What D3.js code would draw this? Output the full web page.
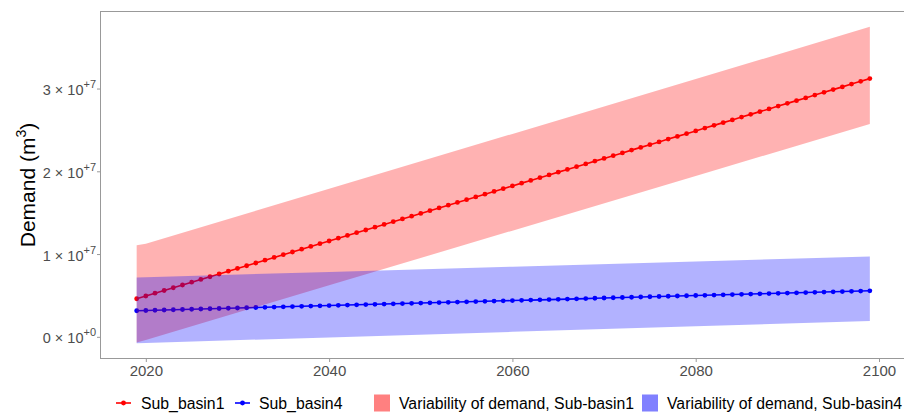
<!DOCTYPE html>
<html>
<head>
<meta charset="utf-8">
<script src="https://cdn.jsdelivr.net/npm/d3@7"></script>
<style>
  html, body { margin: 0; padding: 0; background: #ffffff; }
  svg { display: block; font-family: "Liberation Sans", Arial, sans-serif; }
</style>
</head>
<body>
<svg id="chart" width="904" height="415"></svg>
<script>
// Annual demand (million m3), one point per year 2019-2099
const years = d3.range(2019, 2100);
const subBasin1 = [
  4.60, 4.93, 5.27, 5.60, 5.93, 6.26, 6.60, 6.93, 7.26, 7.59,
  7.93, 8.26, 8.59, 8.92, 9.26, 9.59, 9.92, 10.25, 10.59, 10.92,
  11.25, 11.58, 11.92, 12.25, 12.58, 12.91, 13.25, 13.58, 13.91, 14.24,
  14.58, 14.91, 15.24, 15.57, 15.91, 16.24, 16.57, 16.90, 17.24, 17.57,
  17.90, 18.23, 18.57, 18.90, 19.23, 19.56, 19.90, 20.23, 20.56, 20.89,
  21.23, 21.56, 21.89, 22.22, 22.56, 22.89, 23.22, 23.55, 23.89, 24.22,
  24.55, 24.88, 25.22, 25.55, 25.88, 26.21, 26.55, 26.88, 27.21, 27.54,
  27.88, 28.21, 28.54, 28.87, 29.21, 29.54, 29.87, 30.20, 30.54, 30.87,
  31.20
];
const subBasin4 = [
  3.15, 3.18, 3.21, 3.24, 3.27, 3.30, 3.33, 3.36, 3.39, 3.42,
  3.45, 3.48, 3.51, 3.54, 3.57, 3.60, 3.63, 3.66, 3.69, 3.72,
  3.75, 3.78, 3.81, 3.84, 3.87, 3.90, 3.93, 3.96, 3.99, 4.02,
  4.05, 4.08, 4.11, 4.14, 4.17, 4.20, 4.23, 4.26, 4.29, 4.32,
  4.35, 4.38, 4.41, 4.44, 4.47, 4.50, 4.53, 4.56, 4.59, 4.62,
  4.66, 4.69, 4.72, 4.75, 4.78, 4.81, 4.84, 4.87, 4.90, 4.93,
  4.96, 4.99, 5.02, 5.05, 5.08, 5.11, 5.14, 5.17, 5.20, 5.23,
  5.26, 5.29, 5.32, 5.35, 5.38, 5.41, 5.44, 5.47, 5.50, 5.53,
  5.56
];

// Variability envelopes (million m3)
const bandYears = [2019, 2020, 2040, 2060, 2080, 2099];
const band1Upper = [11.07, 11.24, 17.88, 24.52, 31.15, 37.46];
const band1Lower = [-0.70, -0.37, 6.23, 12.83, 19.43, 25.73];
const band4Upper = [7.17, 7.20, 7.84, 8.47, 9.11, 9.71];
const band4Lower = [-0.77, -0.74, -0.07, 0.60, 1.27, 1.90];

const xTicks = [2020, 2040, 2060, 2080, 2100];
const yTicks = [0, 1, 2, 3];           // multiples of 10^7
const yTickExps = ["+0", "+7", "+7", "+7"];

const seriesNames = ["Sub_basin1", "Sub_basin4"];
const bandNames = ["Variability of demand, Sub-basin1", "Variability of demand, Sub-basin4"];

const svg = d3.select("#chart");
const panel = { left: 100, top: 11, bottom: 359, right: 906.5 };

const x = d3.scaleLinear().domain([2015, 2103]).range([panel.left, panel.right]);
const y = d3.scaleLinear().domain([-2.68e6, 39.37e6]).range([panel.bottom, panel.top]);

svg.append("defs").append("clipPath").attr("id", "panelClip")
  .append("rect")
  .attr("x", panel.left).attr("y", panel.top)
  .attr("width", panel.right - panel.left).attr("height", panel.bottom - panel.top);

const plot = svg.append("g").attr("clip-path", "url(#panelClip)");

const lineGen = d3.line().x(d => x(d.year)).y(d => y(d.value * 1e6));
const areaGen = d3.area()
  .x(d => x(d.year))
  .y0(d => y(d.lo * 1e6))
  .y1(d => y(d.hi * 1e6));

const s1 = years.map((yr, i) => ({ year: yr, value: subBasin1[i] }));
const s4 = years.map((yr, i) => ({ year: yr, value: subBasin4[i] }));
const b1 = bandYears.map((yr, i) => ({ year: yr, lo: band1Lower[i], hi: band1Upper[i] }));
const b4 = bandYears.map((yr, i) => ({ year: yr, lo: band4Lower[i], hi: band4Upper[i] }));

// Lines with yearly points
[[s1, "#ff0000"], [s4, "#0000ff"]].forEach(([data, color]) => {
  plot.append("path").datum(data)
    .attr("d", lineGen)
    .attr("fill", "none")
    .attr("stroke", color)
    .attr("stroke-width", 1.6);
  plot.append("g").selectAll("circle").data(data).join("circle")
    .attr("cx", d => x(d.year))
    .attr("cy", d => y(d.value * 1e6))
    .attr("r", 2.4)
    .attr("fill", color);
});

// Translucent envelopes on top
plot.append("path").datum(b1).attr("d", areaGen)
  .attr("fill", "#ff0000").attr("fill-opacity", 0.3);
plot.append("path").datum(b4).attr("d", areaGen)
  .attr("fill", "#0000ff").attr("fill-opacity", 0.3);

// Panel frame
svg.append("rect")
  .attr("x", panel.left + 0.5).attr("y", panel.top + 0.5)
  .attr("width", panel.right - panel.left).attr("height", panel.bottom - panel.top - 1)
  .attr("fill", "none").attr("stroke", "#999999").attr("stroke-width", 1);

// X axis
const xAxis = d3.axisBottom(x).tickValues(xTicks).tickFormat(d3.format("d")).tickSize(3).tickPadding(3);
const gx = svg.append("g").attr("transform", `translate(0,${panel.bottom})`).call(xAxis);
gx.select(".domain").remove();
gx.selectAll(".tick line").attr("stroke", "#999999");
gx.selectAll(".tick text").attr("fill", "#4d4d4d").attr("font-size", 15)
  .attr("font-family", "Liberation Sans, Arial, sans-serif");

// Y axis with scientific labels
const yAxis = d3.axisLeft(y).tickValues(yTicks.map(v => v * 1e7)).tickSize(3).tickFormat("");
const gy = svg.append("g").attr("transform", `translate(${panel.left},0)`).call(yAxis);
gy.select(".domain").remove();
gy.selectAll(".tick line").attr("stroke", "#999999");
gy.selectAll(".tick").each(function (d, i) {
  const t = d3.select(this).append("text")
    .attr("x", -4).attr("y", 6)
    .attr("text-anchor", "end")
    .attr("fill", "#4d4d4d")
    .attr("font-size", 14.5)
    .attr("font-family", "Liberation Sans, Arial, sans-serif")
    .style("white-space", "pre");
  t.append("tspan").text(`${yTicks[i]} × 10`);
  t.append("tspan").attr("font-size", 11).attr("dy", -7).text(yTickExps[i]);
});

// Y axis title
const title = svg.append("text")
  .attr("transform", `translate(35,${(panel.top + panel.bottom) / 2}) rotate(-90)`)
  .attr("text-anchor", "middle")
  .attr("fill", "#000000")
  .attr("font-size", 21);
title.append("tspan").text("Demand (m");
title.append("tspan").attr("font-size", 14).attr("dy", -9).text("3");
title.append("tspan").attr("dy", 9).text(")");

// Legend
const legend = svg.append("g").attr("font-size", 15.8).attr("fill", "#000000");
const lineKeys = [{ x: 116, color: "#ff0000", label: seriesNames[0], tx: 141 },
                  { x: 235, color: "#0000ff", label: seriesNames[1], tx: 259 }];
const ly = 403;
lineKeys.forEach(k => {
  legend.append("line").attr("x1", k.x).attr("x2", k.x + 15).attr("y1", ly).attr("y2", ly)
    .attr("stroke", k.color).attr("stroke-width", 1.6);
  legend.append("circle").attr("cx", k.x + 7.5).attr("cy", ly).attr("r", 2.4).attr("fill", k.color);
  legend.append("text").attr("x", k.tx).attr("y", ly + 5.5).text(k.label);
});
const fillKeys = [{ x: 374, color: "#ff8080", label: bandNames[0], tx: 399 },
                  { x: 642, color: "#8080ff", label: bandNames[1], tx: 667 }];
fillKeys.forEach(k => {
  legend.append("rect").attr("x", k.x).attr("y", ly - 8.5).attr("width", 16).attr("height", 17)
    .attr("fill", k.color);
  legend.append("text").attr("x", k.tx).attr("y", ly + 5.5).text(k.label);
});
</script>
</body>
</html>
